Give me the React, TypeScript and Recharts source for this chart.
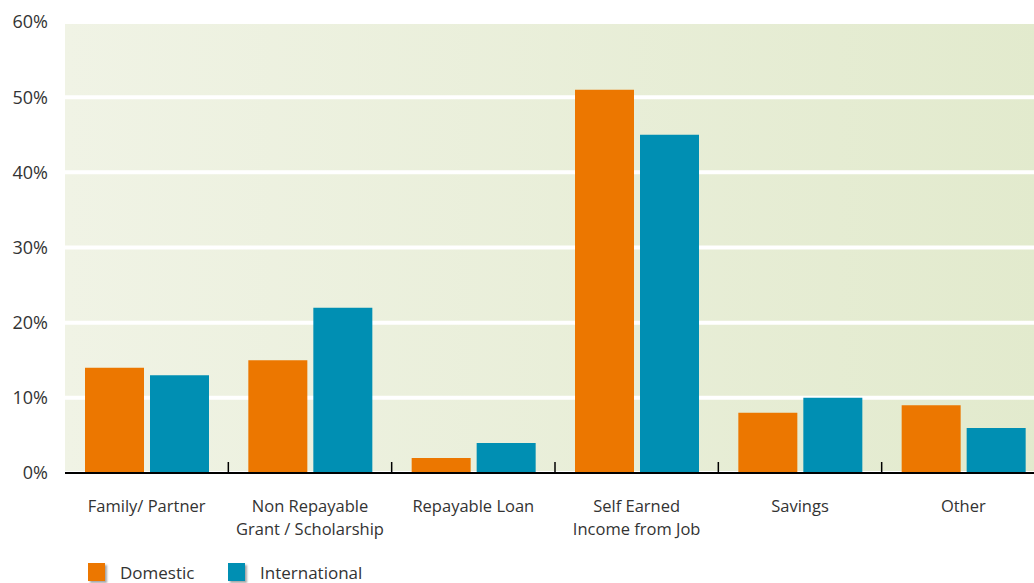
import React from 'react';
import { BarChart, Bar, XAxis, YAxis, CartesianGrid } from 'recharts';

const categories = ['Family/ Partner', 'Non Repayable\nGrant / Scholarship', 'Repayable Loan', 'Self Earned\nIncome from Job', 'Savings', 'Other'];
const domestic = [14, 15, 2, 51, 8, 9];
const international = [13, 22, 4, 45, 10, 6];
const yTicks = [0, 10, 20, 30, 40, 50, 60];
const seriesNames = ['Domestic', 'International'];
const colors = ['#ec7700', '#008fb3'];

const data = categories.map((c, i) => ({ name: c, domestic: domestic[i], international: international[i] }));

const FONT = '"Open Sans", sans-serif';
const TEXT = '#333333';

const CatTick = (props: any) => {
  const { x, y, payload, index } = props;
  const lines = String(payload.value).split('\n');
  const half = payload && typeof payload.offset === 'number' && payload.offset > 0 ? payload.offset : 980 / 12;
  return (
    <g>
      {index > 0 && (
        <line x1={x - half} x2={x - half} y1={y} y2={y - 11} stroke="#000" strokeWidth={1.5} />
      )}
      <text x={x} y={y} textAnchor="middle" fill={TEXT} fontFamily={FONT} fontSize={16.5}>
        {lines.map((l, i) => (
          <tspan key={i} x={x} dy={i === 0 ? 39 : 23}>{l}</tspan>
        ))}
      </text>
    </g>
  );
};

export default function App() {
  return (
    <div style={{ position: 'absolute', left: 0, top: 0, width: 1034, height: 583, overflow: 'hidden', background: '#fff' }}>
      <BarChart
        width={1045}
        height={600}
        data={data}
        margin={{ top: 22, right: 0, bottom: 47, left: 0 }}
        barCategoryGap={20}
        barGap={6}
      >
        <defs>
          <linearGradient id="bgGrad" x1="0" y1="0" x2="1" y2="0">
            <stop offset="0%" stopColor="#f0f3e5" />
            <stop offset="100%" stopColor="#e2eacd" />
          </linearGradient>
        </defs>
        <CartesianGrid vertical={false} stroke="#ffffff" strokeWidth={4} fill="url(#bgGrad)" fillOpacity={1} />
        <XAxis
          dataKey="name"
          interval={0}
          tick={<CatTick />}
          tickLine={false}
          tickSize={0}
          tickMargin={0}
          axisLine={{ stroke: '#000', strokeWidth: 2 }}
          height={80}
        />
        <YAxis
          domain={[0, 60]}
          ticks={yTicks}
          tickFormatter={(v: number) => `${v}%`}
          axisLine={false}
          tickLine={false}
          tickSize={0}
          tickMargin={17}
          width={65}
          tick={{ fill: TEXT, fontFamily: FONT, fontSize: 18 }}
        />
        <Bar dataKey="domestic" name={seriesNames[0]} fill={colors[0]} isAnimationActive={false} />
        <Bar dataKey="international" name={seriesNames[1]} fill={colors[1]} isAnimationActive={false} />
      </BarChart>
      {seriesNames.map((n, i) => (
        <div key={n} style={{ position: 'absolute', left: i === 0 ? 88 : 228, top: 563, height: 18, display: 'flex', alignItems: 'center', fontFamily: FONT, fontSize: 17, color: TEXT }}>
          <div style={{ width: 17, height: 18, background: colors[i], boxShadow: '2px 2px 2px rgba(0,0,0,0.35)', marginRight: 15 }} />
          <span style={{ lineHeight: '17px' }}>{n}</span>
        </div>
      ))}
    </div>
  );
}
